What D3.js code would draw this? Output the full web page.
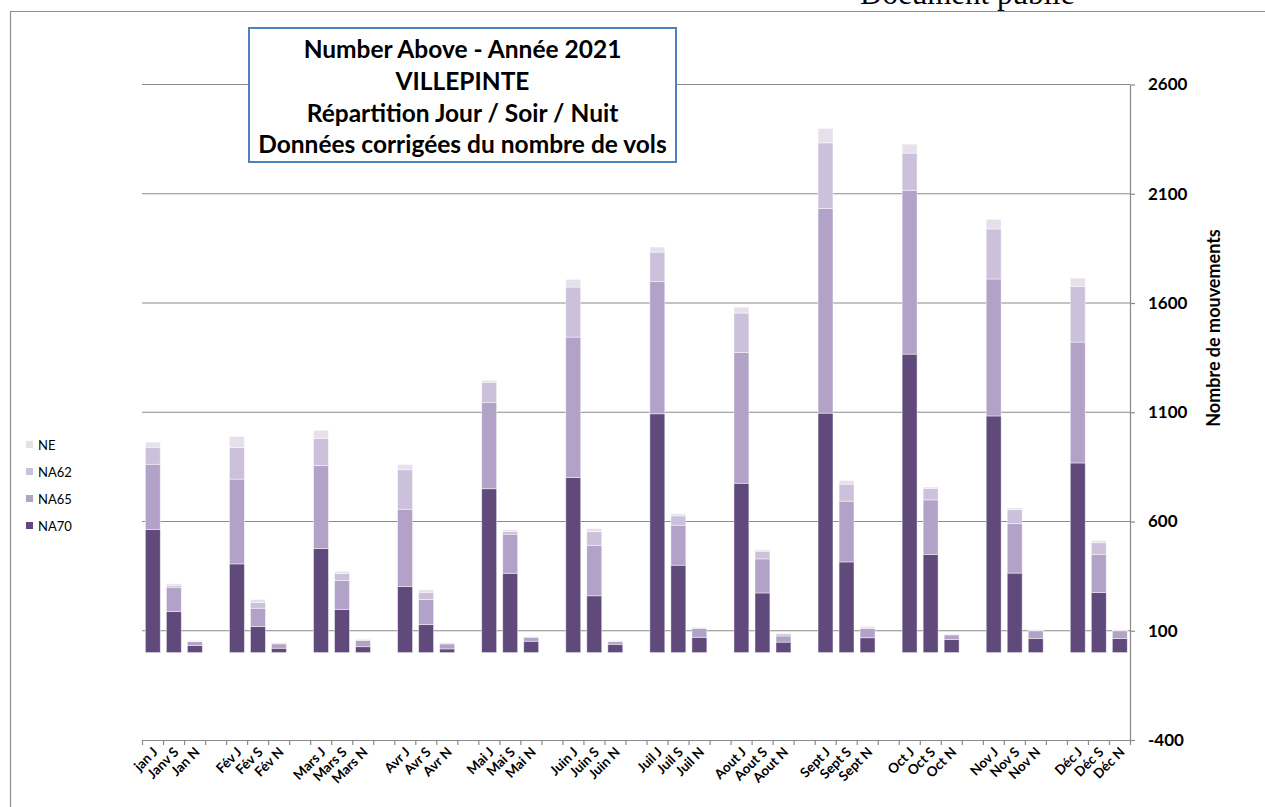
<html>
<head>
<script src="https://cdn.jsdelivr.net/npm/d3@7"></script>
<style>
	body { margin: 0; background: #fff; }
	text { font-family: Lato, sans-serif; }
</style>
</head>
<body>
<svg id="chart" width="1265" height="807"></svg>
<script>
// slots on the x axis, "" = empty slot between months
const categories = ["jan J", "Janv S", "Jan N", "", "Fév J", "Fév S", "Fév N", "", "Mars J", "Mars S", "Mars N", "",
	"Avr J", "Avr S", "Avr N", "", "Mai J", "Mai S", "Mai N", "", "Juin J", "Juin S", "Juin N", "",
	"Juil J", "Juil S", "Juil N", "", "Aout J", "Aout S", "Aout N", "", "Sept J", "Sept S", "Sept N", "",
	"Oct J", "Oct S", "Oct N", "", "Nov J", "Nov S", "Nov N", "", "Déc J", "Déc S", "Déc N"];

// stacked segments, bottom to top
const na70 = [563, 188, 33, null, 406, 119, 20, null, 476, 197, 27, null, 302, 128, 17, null, 750, 363, 52, null,
	801, 260, 38, null, 1093, 400, 70, null, 775, 273, 48, null, 1096, 415, 68, null, 1366, 449, 60, null,
	1083, 364, 65, null, 868, 275, 65];
const na65 = [299, 111, 17, null, 388, 84, 20, null, 380, 133, 28, null, 354, 115, 23, null, 394, 179, 18, null,
	643, 231, 12, null, 606, 183, 41, null, 598, 156, 28, null, 937, 278, 42, null, 750, 250, 21, null,
	627, 226, 35, null, 553, 175, 35];
const na62 = [78, 8, 2, null, 145, 27, 4, null, 125, 32, 5, null, 181, 33, 4, null, 93, 12, 3, null,
	229, 63, 3, null, 134, 43, 3, null, 181, 35, 10, null, 300, 78, 6, null, 170, 53, 3, null,
	229, 64, 3, null, 255, 53, 3];
const ne = [23, 8, 4, null, 50, 13, 2, null, 36, 10, 3, null, 24, 11, 2, null, 9, 8, 2, null,
	35, 14, 2, null, 23, 9, 2, null, 27, 6, 3, null, 66, 17, 5, null, 41, 6, 2, null,
	44, 8, 2, null, 38, 10, 2];

const seriesNames = ["NA70", "NA65", "NA62", "NE"];
const yTicks = [-400, 100, 600, 1100, 1600, 2100, 2600];
const titleLines = ["Number Above - Année 2021", "VILLEPINTE", "Répartition Jour / Soir / Nuit", "Données corrigées du nombre de vols"];

const colors = { NA70: "#604a7b", NA65: "#b3a2c7", NA62: "#ccc1da", NE: "#e5e0ec" };

const rows = categories.map((c, i) => ({
	i: i, label: c, blank: na70[i] == null,
	NA70: na70[i] || 0, NA65: na65[i] || 0, NA62: na62[i] || 0, NE: ne[i] || 0
}));

const svg = d3.select("#chart");
const left = 142, right = 1130;

const x = d3.scaleBand().domain(d3.range(categories.length)).range([left, right]).padding(0);
const xb = d3.scaleLinear().domain([0, categories.length]).range([left, right]);
const y = d3.scaleLinear().domain([-400, 2600]).range([740, 84.5]);

// "Document public" stamp, cut at top like the source page
svg.append("text").attr("x", 860).attr("y", 4)
	.style("font-family", "'Liberation Serif', serif").style("font-size", "31px")
	.text("Document public");

// outer frame
svg.append("path").attr("d", "M10.5,807 V11.5 H1265")
	.attr("fill", "none").attr("stroke", "#8e8e8e").attr("stroke-width", 1.2);

// gridlines
svg.append("g").selectAll("line").data(yTicks.filter(d => d > -400)).enter().append("line")
	.attr("x1", left).attr("x2", right)
	.attr("y1", d => y(d)).attr("y2", d => y(d))
	.attr("stroke", "#8a8a8a").attr("stroke-width", 1.2);

// bars
const stack = d3.stack().keys(seriesNames);
svg.append("g").selectAll("g").data(stack(rows)).enter().append("g")
	.attr("fill", d => colors[d.key])
	.selectAll("rect").data(d => d.filter(s => !s.data.blank)).enter().append("rect")
	.attr("x", d => x(d.data.i) + x.bandwidth() * 0.16)
	.attr("width", x.bandwidth() * 0.71)
	.attr("y", d => y(d[1]))
	.attr("height", d => y(d[0]) - y(d[1]))
	.attr("stroke", "rgba(255,255,255,0.55)").attr("stroke-width", 0.8);

// right axis
const yAxis = svg.append("g").attr("transform", "translate(" + right + ",0)")
	.call(d3.axisRight(y).tickValues(yTicks).tickFormat(d => String(d)).tickSize(5).tickSizeOuter(0).tickPadding(13));
yAxis.select(".domain").attr("stroke", "#8a8a8a").attr("stroke-width", 1.2);
yAxis.selectAll(".tick line").attr("stroke", "#8a8a8a").attr("stroke-width", 1.2);
yAxis.selectAll("text").style("font-family", "Lato, sans-serif").style("font-size", "17px")
	.style("font-weight", "bold").attr("fill", "#000");

svg.append("text")
	.attr("transform", "translate(1220,328) rotate(-90)")
	.attr("text-anchor", "middle")
	.style("font-size", "18px").style("font-weight", "bold")
	.text("Nombre de mouvements");

// bottom axis: ticks at slot boundaries
const xAxis = svg.append("g").attr("transform", "translate(0,740)")
	.call(d3.axisBottom(xb).tickValues(d3.range(categories.length + 1)).tickFormat("").tickSize(5).tickSizeOuter(0));
xAxis.select(".domain").attr("stroke", "#8a8a8a").attr("stroke-width", 1.2);
xAxis.selectAll(".tick line").attr("stroke", "#8a8a8a").attr("stroke-width", 1.2);

const xLabels = svg.append("g").attr("transform", "translate(0,740)")
	.call(d3.axisBottom(x).tickSize(0).tickFormat(i => categories[i]));
xLabels.select(".domain").remove();
xLabels.selectAll("text")
	.style("font-family", "Lato, sans-serif").style("font-size", "13.5px").style("font-weight", "bold")
	.attr("fill", "#000")
	.attr("text-anchor", "end")
	.attr("dy", null).attr("y", 0)
	.attr("transform", "translate(6,13) rotate(-45)");

// legend
const leg = svg.append("g");
seriesNames.slice().reverse().forEach((k, j) => {
	leg.append("rect").attr("x", 26).attr("y", 441 + j * 27).attr("width", 7).attr("height", 7).attr("fill", colors[k]);
	leg.append("text").attr("x", 38).attr("y", 449.5 + j * 27).style("font-size", "13px").text(k);
});

// title box
svg.append("rect").attr("x", 249).attr("y", 28).attr("width", 427).attr("height", 134)
	.attr("fill", "#fff").attr("stroke", "#4f81bd").attr("stroke-width", 2);
svg.append("g").selectAll("text").data(titleLines).enter().append("text")
	.attr("x", 462.5).attr("y", (d, i) => 58 + i * 31.8)
	.attr("text-anchor", "middle")
	.style("font-size", "24.5px").style("font-weight", "bold")
	.text(d => d);
</script>
</body>
</html>
